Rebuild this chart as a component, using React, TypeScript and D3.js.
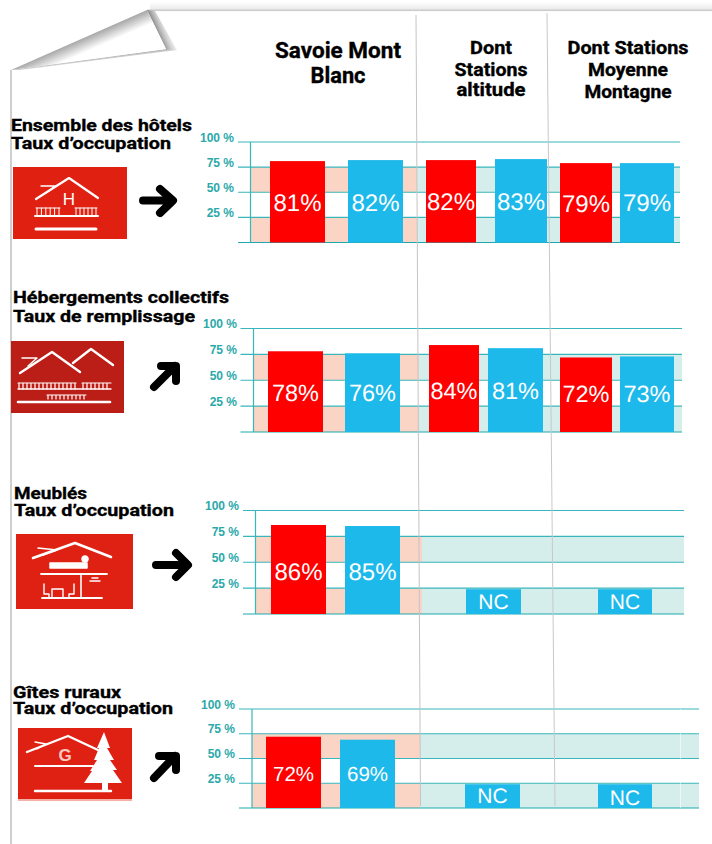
import React from "react";
import * as d3 from "d3";

// ---------- data ----------
const columnTitles = [
  ["Savoie Mont", "Blanc"],
  ["Dont", "Stations", "altitude"],
  ["Dont Stations", "Moyenne", "Montagne"],
];
const rowTitles = ["Ensemble des hôtels", "Hébergements collectifs", "Meublés", "Gîtes ruraux"];
const rowSubtitles = ["Taux d’occupation", "Taux de remplissage", "Taux d’occupation", "Taux d’occupation"];
const hotelValues = [81, 82, 82, 83, 79, 79];
const collectiveValues = [78, 76, 84, 81, 72, 73];
const furnishedValues: (number | null)[] = [86, 85, null, null];
const ruralValues: (number | null)[] = [72, 69, null, null];
const gridTicks = [100, 75, 50, 25, 0];
const tickLabels = [100, 75, 50, 25];
const NC_LEVEL = 24;

// ---------- layout ----------
const RED = "#fe0000", BLUE = "#1db9ea", PEACH = "#fad5c5", MINT = "#d6eeeb", TEAL = "#38b6bb", TEAL_TXT = "#2ba9aa";
const panels = [
  { values: hotelValues, y0: 242.5, y100: 142, axisX: 250.5, tickX: 238, right: 680, split: 417, tickRight: 234, font: 24,
    edges: [[270, 325], [348, 403], [426, 476], [495, 547], [560, 612], [620, 674]], labelY: [211, 211, 210, 210, 212, 211] },
  { values: collectiveValues, y0: 432, y100: 328.5, axisX: 253.5, tickX: 240.5, right: 682, split: 419, tickRight: 237, font: 23.5,
    edges: [[268, 323], [345, 400], [429, 479], [488, 543], [560, 612], [620, 674]], labelY: [401, 401, 399, 399, 402, 402] },
  { values: furnishedValues, y0: 614, y100: 510.5, axisX: 255.5, tickX: 243, right: 684, split: 422, tickRight: 239, font: 24,
    edges: [[271, 326], [345, 400], [466, 521], [598, 652]], labelY: [580, 580, 609, 609] },
  { values: ruralValues, y0: 808, y100: 709, axisX: 252, tickX: 239, right: 699, split: 420, tickRight: 235, font: 20.5,
    edges: [[266, 321], [340, 395], [465, 520], [598, 652]], labelY: [781, 781, 803, 805] },
];
const titleFont = "Roboto, 'Noto Sans', sans-serif";
const numFont = "'Liberation Sans', Arial, sans-serif";

const rowLabelLayout = [
  { x: 11, y1: 131, y2: 149, w1: 181, w2: 160 },
  { x: 13, y1: 303, y2: 322, w1: 216, w2: 182 },
  { x: 14, y1: 499, y2: 516, w1: 73, w2: 160 },
  { x: 13, y1: 698, y2: 714, w1: 108, w2: 160 },
];
const columnLayout = [
  { cx: 338, size: 22, ys: [58, 83], widths: [126, 55] },
  { cx: 491, size: 18.5, ys: [54, 76, 96], widths: [42, 73, 69] },
  { cx: 628, size: 18.5, ys: [54, 76, 98], widths: [121, 80, 87] },
];

// ---------- pieces ----------
function Panel({ p }: { p: (typeof panels)[number] }) {
  const y = d3.scaleLinear().domain([0, 100]).range([p.y0, p.y100]);
  const bands: [number, number][] = [[75, 50], [25, 0]];
  return (
    <g>
      {bands.map(([hi, lo]) => (
        <g key={hi}>
          <rect x={p.axisX} width={p.split - p.axisX} y={y(hi)} height={y(lo) - y(hi)} fill={PEACH} />
          <rect x={p.split} width={p.right - p.split} y={y(hi)} height={y(lo) - y(hi)} fill={MINT} />
        </g>
      ))}
      {gridTicks.map((t) => (
        <line key={t} x1={p.tickX} x2={p.right} y1={y(t)} y2={y(t)} stroke={t === 0 ? "#1ea8ae" : TEAL} strokeWidth={1.2} />
      ))}
      <line x1={p.axisX} x2={p.axisX} y1={y(100)} y2={y(0)} stroke={TEAL} strokeWidth={1.2} />
      {tickLabels.map((t) => (
        <text key={t} x={p.tickRight} y={y(t) - 0.5} textAnchor="end" fontFamily={numFont} fontWeight={700} fontSize={12} fill={TEAL_TXT}>
          {t} %
        </text>
      ))}
      {p.values.map((v, i) => {
        const [a, b] = p.edges[i];
        const isNc = v === null;
        const top = y(isNc ? NC_LEVEL : (v as number));
        return (
          <g key={i}>
            <rect x={a} width={b - a} y={top} height={p.y0 - top} fill={isNc || i % 2 ? BLUE : RED} />
            <text x={(a + b) / 2} y={p.labelY[i]} textAnchor="middle" fontFamily={numFont} fontSize={isNc ? 21 : p.font} fill="#fff"
              style={{ textRendering: "geometricPrecision" }}>
              {isNc ? "NC" : `${v}%`}
            </text>
          </g>
        );
      })}
    </g>
  );
}

const Arrow = ({ d }: { d: string }) => (
  <path d={d} fill="none" stroke="#000" strokeWidth={8} strokeLinecap="round" strokeLinejoin="round" />
);

function rail(x1: number, x2: number, y1: number, y2: number, step: number) {
  const xs = d3.range(x1, x2 + 0.1, step);
  return xs.map((x) => `M${x} ${y1}V${y2}`).join("") + `M${x1 - 1} ${y1}H${x2 + 1}`;
}

const W = { fill: "none", stroke: "#fff", strokeLinecap: "round" as const, strokeLinejoin: "round" as const };

function Icons() {
  return (
    <g>
      {/* hotel */}
      <rect x={13} y={167} width={114} height={72} fill="#e02010" />
      <g {...W}>
        <path d="M36 199L69 178L98 198" strokeWidth={2.2} />
        <path d="M41 186H55L46 193" strokeWidth={1.4} />
        <path d={rail(37, 59, 208, 216, 4.4)} strokeWidth={1} />
        <path d={rail(76, 96, 208, 216, 4)} strokeWidth={1} />
        <path d="M35 216H98" strokeWidth={2} />
        <path d="M36 229H96" strokeWidth={3} />
      </g>
      <text x={69} y={205} textAnchor="middle" fontFamily={numFont} fontSize={17} fill="#fff">H</text>
      {/* collective */}
      <rect x={11} y={341} width={113} height={72} fill="#bb1d17" />
      <g {...W}>
        <path d="M20 373L52 352L80 372" strokeWidth={2.4} />
        <path d="M73 363L91 349L113 365" strokeWidth={2.4} />
        <path d="M22 358H37L28 366" strokeWidth={1.4} />
        <path d={rail(19, 75, 383, 389, 4)} strokeWidth={1.2} />
        <path d={rail(83, 110, 383, 389, 4)} strokeWidth={1.2} />
        <path d="M18 389H111" strokeWidth={1.4} />
        <path d={rail(48, 85, 395, 399, 4)} strokeWidth={1.2} />
        <path d="M18 402H110" strokeWidth={2.6} />
      </g>
      {/* furnished */}
      <rect x={16} y={534} width={117} height={75} fill="#df2114" />
      <g {...W}>
        <path d="M33 558L75 543L111 557" strokeWidth={2.6} />
        <path d="M38 548L57 550L43 555" strokeWidth={1.6} />
        <rect x={50} y={563} width={37} height={5} fill="#fff" strokeWidth={1.5} />
        <circle cx={85} cy={559} r={3.5} fill="#fff" strokeWidth={0.5} />
        <path d="M41 574H107" strokeWidth={1.8} />
        <path d="M81 574V598" strokeWidth={1.6} />
        <path d="M92 578H98M90 581H100" strokeWidth={1.4} />
        <path d="M42 598H102" strokeWidth={1.8} />
        <path d="M44 584V594H49V598M74 584V594H69V598M52 598V589H63V598" strokeWidth={1.4} />
      </g>
      {/* rural */}
      <rect x={18} y={728} width={114} height={73} fill="#df2114" />
      <rect x={18} y={799} width={114} height={2} fill="#f6b0a6" />
      <g {...W}>
        <path d="M27 752L68 736L98 750" strokeWidth={2.4} />
        <path d="M35 742L46 744L37 749" strokeWidth={1.4} />
        <path d="M35 766H93" strokeWidth={2} />
        <path d="M35 791H111" strokeWidth={2.4} />
      </g>
      <text x={65} y={761} textAnchor="middle" fontFamily={numFont} fontWeight={700} fontSize={17} fill="#f9c9c0">G</text>
      <path
        d="M104 732L110 748L107 748L114 760L110 760L117 770L113 770L122 783L108 783L108 791L102 791L102 783L84 783L92 771L90 771L97 760L94 760L99 748L97 748Z"
        fill="#fff"
      />
      <Arrow d="M143 200.5H172M160 189L173 200.5L160 213" />
      <Arrow d="M154 387L175 366M161 366H176V381" />
      <Arrow d="M156 565H187M176 553L188 565L176 577" />
      <Arrow d="M154 778L175 756M159 756H176V770" />
    </g>
  );
}

function PageCurl() {
  return (
    <g>
      <defs>
        <linearGradient id="topBand" gradientUnits="userSpaceOnUse" x1={147} y1={10} x2={152.6} y2={22.8}>
          <stop offset="0" stopColor="#a6a6a6" />
          <stop offset="1" stopColor="#fff" />
        </linearGradient>
        <linearGradient id="rightShade" gradientUnits="userSpaceOnUse" x1={156} y1={29} x2={172} y2={22}>
          <stop offset="0" stopColor="#8e8e8e" />
          <stop offset="1" stopColor="#fff" stopOpacity={0} />
        </linearGradient>
        <linearGradient id="lowerShade" gradientUnits="userSpaceOnUse" x1={90} y1={59} x2={91} y2={67}>
          <stop offset="0" stopColor="#b4b4b4" />
          <stop offset="1" stopColor="#fff" stopOpacity={0} />
        </linearGradient>
        <linearGradient id="topFade" x1={0} y1={0} x2={0} y2={1}>
          <stop offset="0" stopColor="#fff" />
          <stop offset="1" stopColor="#e8e8e8" />
        </linearGradient>
      </defs>
      <rect x={150} y={2} width={562} height={8} fill="url(#topFade)" />
      <rect x={147} y={9.5} width={565} height={1.6} fill="#cdcdcd" />
      <rect x={10} y={70} width={2} height={774} fill="#cfcfcf" />
      <path d="M166 49L177 50L20 70L11 70Z" fill="url(#lowerShade)" />
      <path d="M147 10L166 49L177 50L155 11Z" fill="url(#rightShade)" />
      <path d="M147 10L11 70L166 49Z" fill="url(#topBand)" />
    </g>
  );
}

export default function App() {
  return (
    <svg width={712} height={844} style={{ position: "absolute", left: 0, top: 0, display: "block", background: "#fff" }}>
      <PageCurl />
      {columnTitles.map((lines, c) =>
        lines.map((t, i) => (
          <text key={t} x={columnLayout[c].cx} y={columnLayout[c].ys[i]} textAnchor="middle" fontFamily={titleFont} fontWeight={700}
            fontSize={columnLayout[c].size} textLength={columnLayout[c].widths[i]} lengthAdjust="spacingAndGlyphs" fill="#000"
            stroke="#000" strokeWidth={0.35}>
            {t}
          </text>
        ))
      )}
      {panels.map((p, i) => <Panel key={i} p={p} />)}
      <line x1={416} y1={15} x2={420.5} y2={806} stroke="#c4c4c4" strokeWidth={1} />
      <line x1={547} y1={13} x2={555} y2={806} stroke="#c8c8c8" strokeWidth={1} />
      <line x1={680.5} y1={709} x2={680.5} y2={808} stroke="#fff" strokeOpacity={0.5} strokeWidth={1} />
      {rowTitles.map((t, i) => {
        const l = rowLabelLayout[i];
        return (
          <g key={t} fontFamily={titleFont} fontWeight={700} fontSize={17} fill="#000" stroke="#000" strokeWidth={0.35}>
            <text x={l.x} y={l.y1} textLength={l.w1} lengthAdjust="spacingAndGlyphs">{t}</text>
            <text x={l.x} y={l.y2} textLength={l.w2} lengthAdjust="spacingAndGlyphs">{rowSubtitles[i]}</text>
          </g>
        );
      })}
      <Icons />
    </svg>
  );
}
